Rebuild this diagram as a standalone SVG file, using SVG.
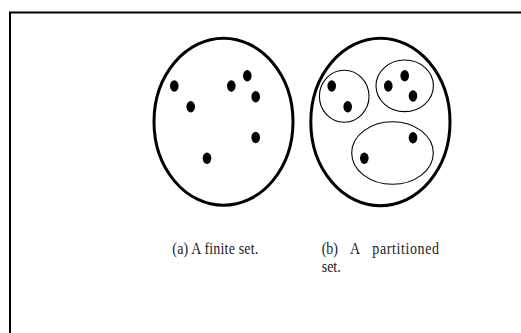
<svg xmlns="http://www.w3.org/2000/svg" width="521" height="333" viewBox="0 0 521 333">
<style>
.big{fill:none;stroke:#000;stroke-width:3}
.part{fill:none;stroke:#000;stroke-width:1.1}
.dot{fill:#000}
.lbl{font-family:"Liberation Serif","DejaVu Serif",serif;font-size:14px;fill:#222}
</style>
<rect x="0" y="0" width="521" height="333" fill="#fff"/>
<path d="M10,333 V12.5 H521" fill="none" stroke="#000" stroke-width="2"/>
<g id="finite-set">
<ellipse class="big" cx="223.5" cy="121.8" rx="69.5" ry="83.5"/>
<ellipse class="dot" cx="174.3" cy="86" rx="4.3" ry="5.7"/>
<ellipse class="dot" cx="190.7" cy="106.7" rx="4.3" ry="5.7"/>
<ellipse class="dot" cx="231.3" cy="86" rx="4.3" ry="5.7"/>
<ellipse class="dot" cx="247.3" cy="75.7" rx="4.3" ry="5.7"/>
<ellipse class="dot" cx="255.7" cy="96.7" rx="4.3" ry="5.7"/>
<ellipse class="dot" cx="255.7" cy="137.5" rx="4.3" ry="5.7"/>
<ellipse class="dot" cx="207" cy="158.3" rx="4.3" ry="5.7"/>
</g>
<g id="partitioned-set">
<ellipse class="big" cx="380.4" cy="122" rx="69.6" ry="83.7"/>
<ellipse class="part" cx="344.2" cy="96.2" rx="24.8" ry="26"/>
<ellipse class="part" cx="404.7" cy="85.8" rx="28.7" ry="25.8"/>
<ellipse class="part" cx="392.5" cy="153" rx="40.8" ry="31.3"/>
<ellipse class="dot" cx="331.7" cy="86" rx="4.3" ry="5.7"/>
<ellipse class="dot" cx="347.7" cy="106.7" rx="4.3" ry="5.7"/>
<ellipse class="dot" cx="388.3" cy="86" rx="4.3" ry="5.7"/>
<ellipse class="dot" cx="404.7" cy="75.7" rx="4.3" ry="5.7"/>
<ellipse class="dot" cx="413" cy="96" rx="4.3" ry="5.7"/>
<ellipse class="dot" cx="413" cy="137.7" rx="4.3" ry="5.7"/>
<ellipse class="dot" cx="364.3" cy="158.3" rx="4.3" ry="5.7"/>
</g>
<g id="caption-a">
<text class="lbl" transform="translate(172.3,253.5) scale(1,1.22)" x="0" y="0" textLength="86">(a) A finite set.</text>
</g>
<g id="caption-b">
<text class="lbl" transform="translate(321.7,253.5) scale(1,1.22)" y="0"><tspan x="0">(b)</tspan><tspan x="28.3">A</tspan><tspan x="50.6" textLength="66.7">partitioned</tspan></text>
<text class="lbl" transform="translate(321.7,272.3) scale(1,1.22)" x="0" y="0">set.</text>
</g>
</svg>
